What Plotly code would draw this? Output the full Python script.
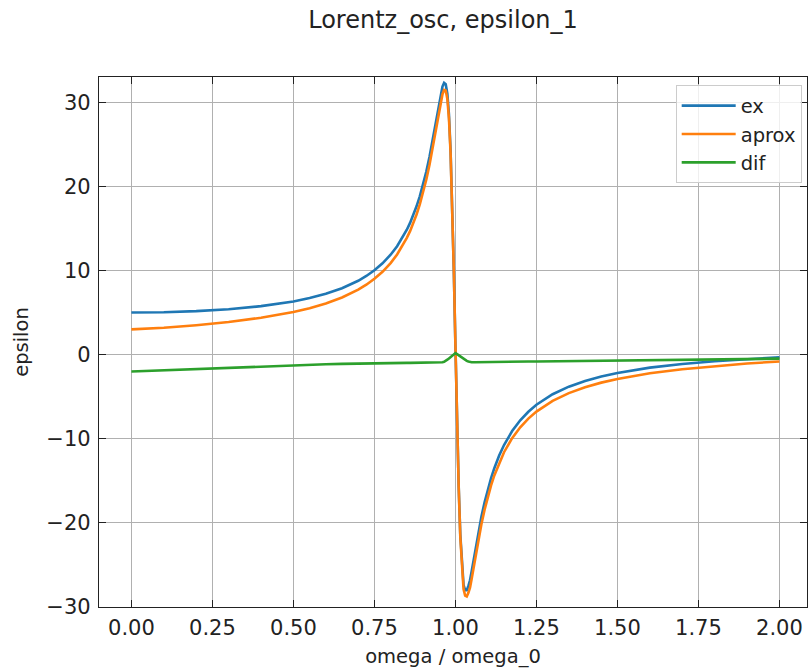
import plotly.graph_objects as go

omega = [0, 0.1, 0.2, 0.3, 0.4, 0.5, 0.55, 0.6, 0.65, 0.7, 0.725, 0.75, 0.775, 0.8, 0.82, 0.84, 0.85,
         0.86, 0.87, 0.88, 0.89, 0.9, 0.91, 0.92, 0.93, 0.94,
         0.95, 0.955, 0.96, 0.965, 0.97, 0.975, 0.98, 0.985, 0.99, 0.995, 1.0, 1.005, 1.01, 1.015, 1.02,
         1.025, 1.03, 1.035, 1.04, 1.045, 1.05, 1.06, 1.07, 1.08, 1.09, 1.1, 1.11, 1.12, 1.135, 1.15,
         1.175, 1.2, 1.225, 1.25, 1.3, 1.35, 1.4, 1.45, 1.5, 1.6, 1.7, 1.8, 1.9, 2.0]

ex = [5.00, 5.04, 5.17, 5.39, 5.76, 6.32, 6.72, 7.23, 7.89, 8.78, 9.35, 10.03, 10.85, 11.88, 12.89,
      14.12, 14.85, 15.66, 16.58, 17.63, 18.82, 20.18, 21.74,
      23.52, 25.54, 27.76, 30.02, 31.04, 31.86, 32.31, 32.14, 31.02, 28.54, 24.29, 18.06, 10.04, 1.00,
      -7.91, -15.59, -21.38, -25.22, -27.36, -28.00, -28.00, -27.50, -26.83, -25.78, -23.51, -21.31,
      -19.31, -17.55, -16.01, -14.67, -13.50, -12.00, -10.75, -9.09, -7.81, -6.79, -5.96, -4.71, -3.81,
      -3.13, -2.60, -2.18, -1.55, -1.11, -0.78, -0.53, -0.33]

aprox = [3.00, 3.19, 3.49, 3.87, 4.38, 5.07, 5.52, 6.08, 6.79, 7.73, 8.31, 9.01, 9.84, 10.88, 11.90,
         13.14, 13.87, 14.68, 15.61, 16.66, 17.86, 19.22, 20.78,
         22.56, 24.58, 26.80, 29.07, 30.10, 30.96, 31.46, 31.39, 30.42, 28.09, 24.01, 17.94, 10.08, 1.18,
         -7.86, -15.69, -21.63, -25.62, -27.88, -28.65, -28.75, -28.32, -27.70, -26.68, -24.41, -22.20,
         -20.19, -18.43, -16.88, -15.54, -14.36, -12.86, -11.60, -9.93, -8.64, -7.61, -6.77, -5.50, -4.58,
         -3.88, -3.33, -2.89, -2.22, -1.74, -1.36, -1.06, -0.81]

dif = [-2.00, -1.85, -1.68, -1.52, -1.38, -1.25, -1.20, -1.15, -1.10, -1.05, -1.035, -1.02, -1.01,
       -1.00, -0.99, -0.985, -0.98, -0.98, -0.975, -0.97, -0.965, -0.96,
       -0.96, -0.96, -0.96, -0.96, -0.95, -0.94, -0.90, -0.85, -0.75, -0.60, -0.45, -0.28, -0.12, 0.04,
       0.18, 0.05, -0.10, -0.25, -0.40, -0.52, -0.65, -0.75, -0.82, -0.87, -0.90, -0.90, -0.89, -0.88,
       -0.88, -0.87, -0.865, -0.86, -0.855, -0.85, -0.84, -0.83, -0.82, -0.81, -0.79, -0.77, -0.75,
       -0.73, -0.71, -0.67, -0.63, -0.58, -0.53, -0.48]

x_ticks = [0.0, 0.25, 0.5, 0.75, 1.0, 1.25, 1.5, 1.75, 2.0]
y_ticks = [-30, -20, -10, 0, 10, 20, 30]

FONT = "DejaVu Sans"
W, H = 808, 671

fig = go.Figure()
for name, ys, col in [("ex", ex, "#1f77b4"), ("aprox", aprox, "#ff7f0e"), ("dif", dif, "#2ca02c")]:
    fig.add_trace(go.Scatter(x=omega, y=ys, mode="lines", name=name,
                             line=dict(color=col, width=2.6)))

axis_common = dict(
    showline=True, linecolor="#222222", linewidth=1.2, mirror="allticks",
    ticks="inside", ticklen=7, tickwidth=1.2, tickcolor="#222222",
    showgrid=True, gridcolor="#b0b0b0", gridwidth=1, zeroline=False,
    tickfont=dict(family=FONT, size=21, color="#222222"),
)

fig.update_layout(
    width=W, height=H,
    margin=dict(l=99, r=1, t=77, b=64),
    paper_bgcolor="white", plot_bgcolor="white",
    font=dict(family=FONT, color="#222222"),
    title=dict(text="Lorentz_osc, epsilon_1", x=443 / W, xref="container", xanchor="center",
               y=1 - 20 / H, yref="container", yanchor="middle",
               font=dict(family=FONT, size=24, color="#222222")),
    xaxis=dict(range=[-0.1, 2.085], tickvals=x_ticks, tickformat=".2f", ticklabelstandoff=2,
               title=dict(text="omega / omega_0", font=dict(family=FONT, size=19.5), standoff=10),
               **axis_common),
    yaxis=dict(range=[-30, 33], tickvals=y_ticks, ticklabelstandoff=3,
               title=dict(text="epsilon", font=dict(family=FONT, size=19.5), standoff=12),
               **axis_common),
    legend=dict(x=0.9925, y=0.984, xanchor="right", yanchor="top", itemwidth=54,
                bgcolor="rgba(255,255,255,0.8)", bordercolor="#cccccc", borderwidth=1,
                font=dict(family=FONT, size=19.5, color="#222222")),
    showlegend=True,
)

fig.write_html("out.html", config={"displayModeBar": False},
               post_script="document.body.style.margin='0';document.body.style.overflow='hidden';")
